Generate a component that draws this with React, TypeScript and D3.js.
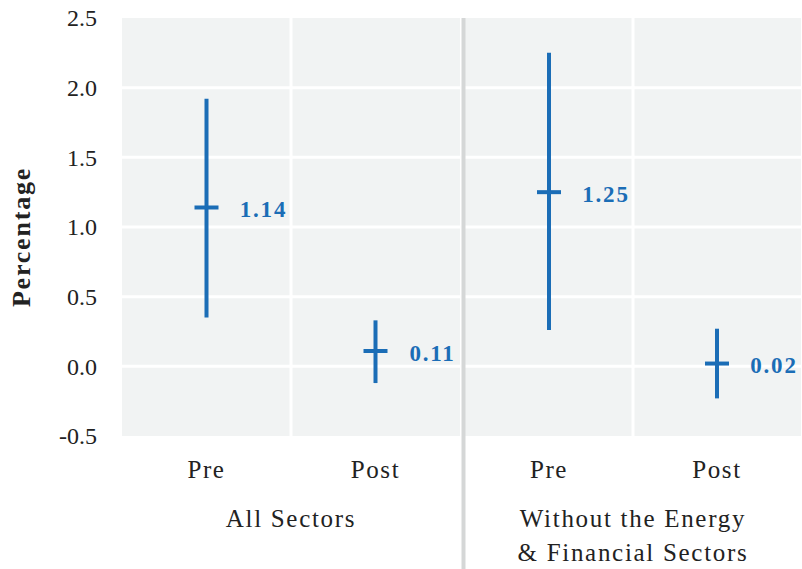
import React from "react";
import * as d3 from "d3";

// Estimates with confidence intervals, by sample and period
const facetLabels: string[][] = [["All Sectors"], ["Without the Energy", "& Financial Sectors"]];
const periods = ["Pre", "Post"];
const estimates = [
  [1.14, 0.11],
  [1.25, 0.02],
];
const lowers = [
  [0.35, -0.12],
  [0.26, -0.23],
];
const uppers = [
  [1.92, 0.33],
  [2.25, 0.27],
];
const yTicks = [-0.5, 0, 0.5, 1.0, 1.5, 2.0, 2.5];

const W = 802;
const H = 569;
const BLUE = "#1b6db6";
const PANEL = "#f1f3f3";
const TEXT = "#222222";
const FONT = "'Liberation Serif', 'Times New Roman', serif";

const fmtTick = (v: number) => d3.format(".1f")(v).replace("\u2212", "-");

export default function App() {
  const y = d3.scaleLinear().domain([-0.5, 2.5]).range([436, 18]);
  const panelRanges: [number, number][] = [
    [122, 460],
    [465, 801],
  ];
  const dividerX = 463.5;

  return (
    <svg
      width={W}
      height={H}
      style={{ position: "absolute", left: 0, top: 0, background: "#ffffff" }}
      fontFamily={FONT}
    >
      {/* y-axis title */}
      <text
        transform={`translate(30, 237) rotate(-90)`}
        textAnchor="middle"
        fontSize={26}
        fontWeight="bold"
        letterSpacing={1.8}
        fill={TEXT}
      >
        Percentage
      </text>

      {/* y tick labels */}
      {yTicks.map((t) => (
        <text
          key={t}
          x={97}
          y={y(t)}
          dy="0.35em"
          textAnchor="end"
          fontSize={24}
          fill={TEXT}
        >
          {fmtTick(t)}
        </text>
      ))}

      {panelRanges.map((range, fi) => {
        const x = d3.scaleBand<string>().domain(periods).range(range).padding(0);
        const bw = x.bandwidth();
        const cx = (p: string) => (x(p) as number) + bw / 2;
        const center = (range[0] + range[1]) / 2;
        return (
          <g key={fi}>
            <rect
              x={range[0]}
              y={y(2.5)}
              width={range[1] - range[0]}
              height={y(-0.5) - y(2.5)}
              fill={PANEL}
            />
            {/* horizontal grid */}
            {yTicks.slice(1, -1).map((t) => (
              <line
                key={t}
                x1={range[0]}
                x2={range[1]}
                y1={y(t)}
                y2={y(t)}
                stroke="#ffffff"
                strokeWidth={3}
              />
            ))}
            {/* vertical grid between periods */}
            {periods.slice(1).map((p) => (
              <line
                key={p}
                x1={x(p) as number}
                x2={x(p) as number}
                y1={y(2.5)}
                y2={y(-0.5)}
                stroke="#ffffff"
                strokeWidth={3}
              />
            ))}
            {/* estimates with intervals */}
            {periods.map((p, pi) => {
              const px = cx(p);
              const est = estimates[fi][pi];
              return (
                <g key={p}>
                  <line
                    x1={px}
                    x2={px}
                    y1={y(lowers[fi][pi])}
                    y2={y(uppers[fi][pi])}
                    stroke={BLUE}
                    strokeWidth={4}
                  />
                  <line
                    x1={px - 12}
                    x2={px + 12}
                    y1={y(est)}
                    y2={y(est)}
                    stroke={BLUE}
                    strokeWidth={4}
                  />
                  <text
                    x={px + 57}
                    y={y(est)}
                    dy="0.42em"
                    textAnchor="middle"
                    fontSize={23}
                    fontWeight="bold"
                    letterSpacing={1.8}
                    fill={BLUE}
                  >
                    {d3.format(".2f")(est)}
                  </text>
                </g>
              );
            })}
            {/* period labels */}
            {periods.map((p) => (
              <text
                key={p}
                x={cx(p)}
                y={478}
                textAnchor="middle"
                fontSize={25}
                letterSpacing={1.6}
                fill={TEXT}
              >
                {p}
              </text>
            ))}
            {/* facet label */}
            {facetLabels[fi].map((line, li) => (
              <text
                key={li}
                x={center}
                y={527 + li * 34}
                textAnchor="middle"
                fontSize={25}
                letterSpacing={1.7}
                fill={TEXT}
              >
                {line}
              </text>
            ))}
          </g>
        );
      })}

      {/* divider between samples */}
      <line
        x1={dividerX}
        x2={dividerX}
        y1={y(2.5)}
        y2={H}
        stroke="#d5d7d7"
        strokeWidth={4}
      />
    </svg>
  );
}
